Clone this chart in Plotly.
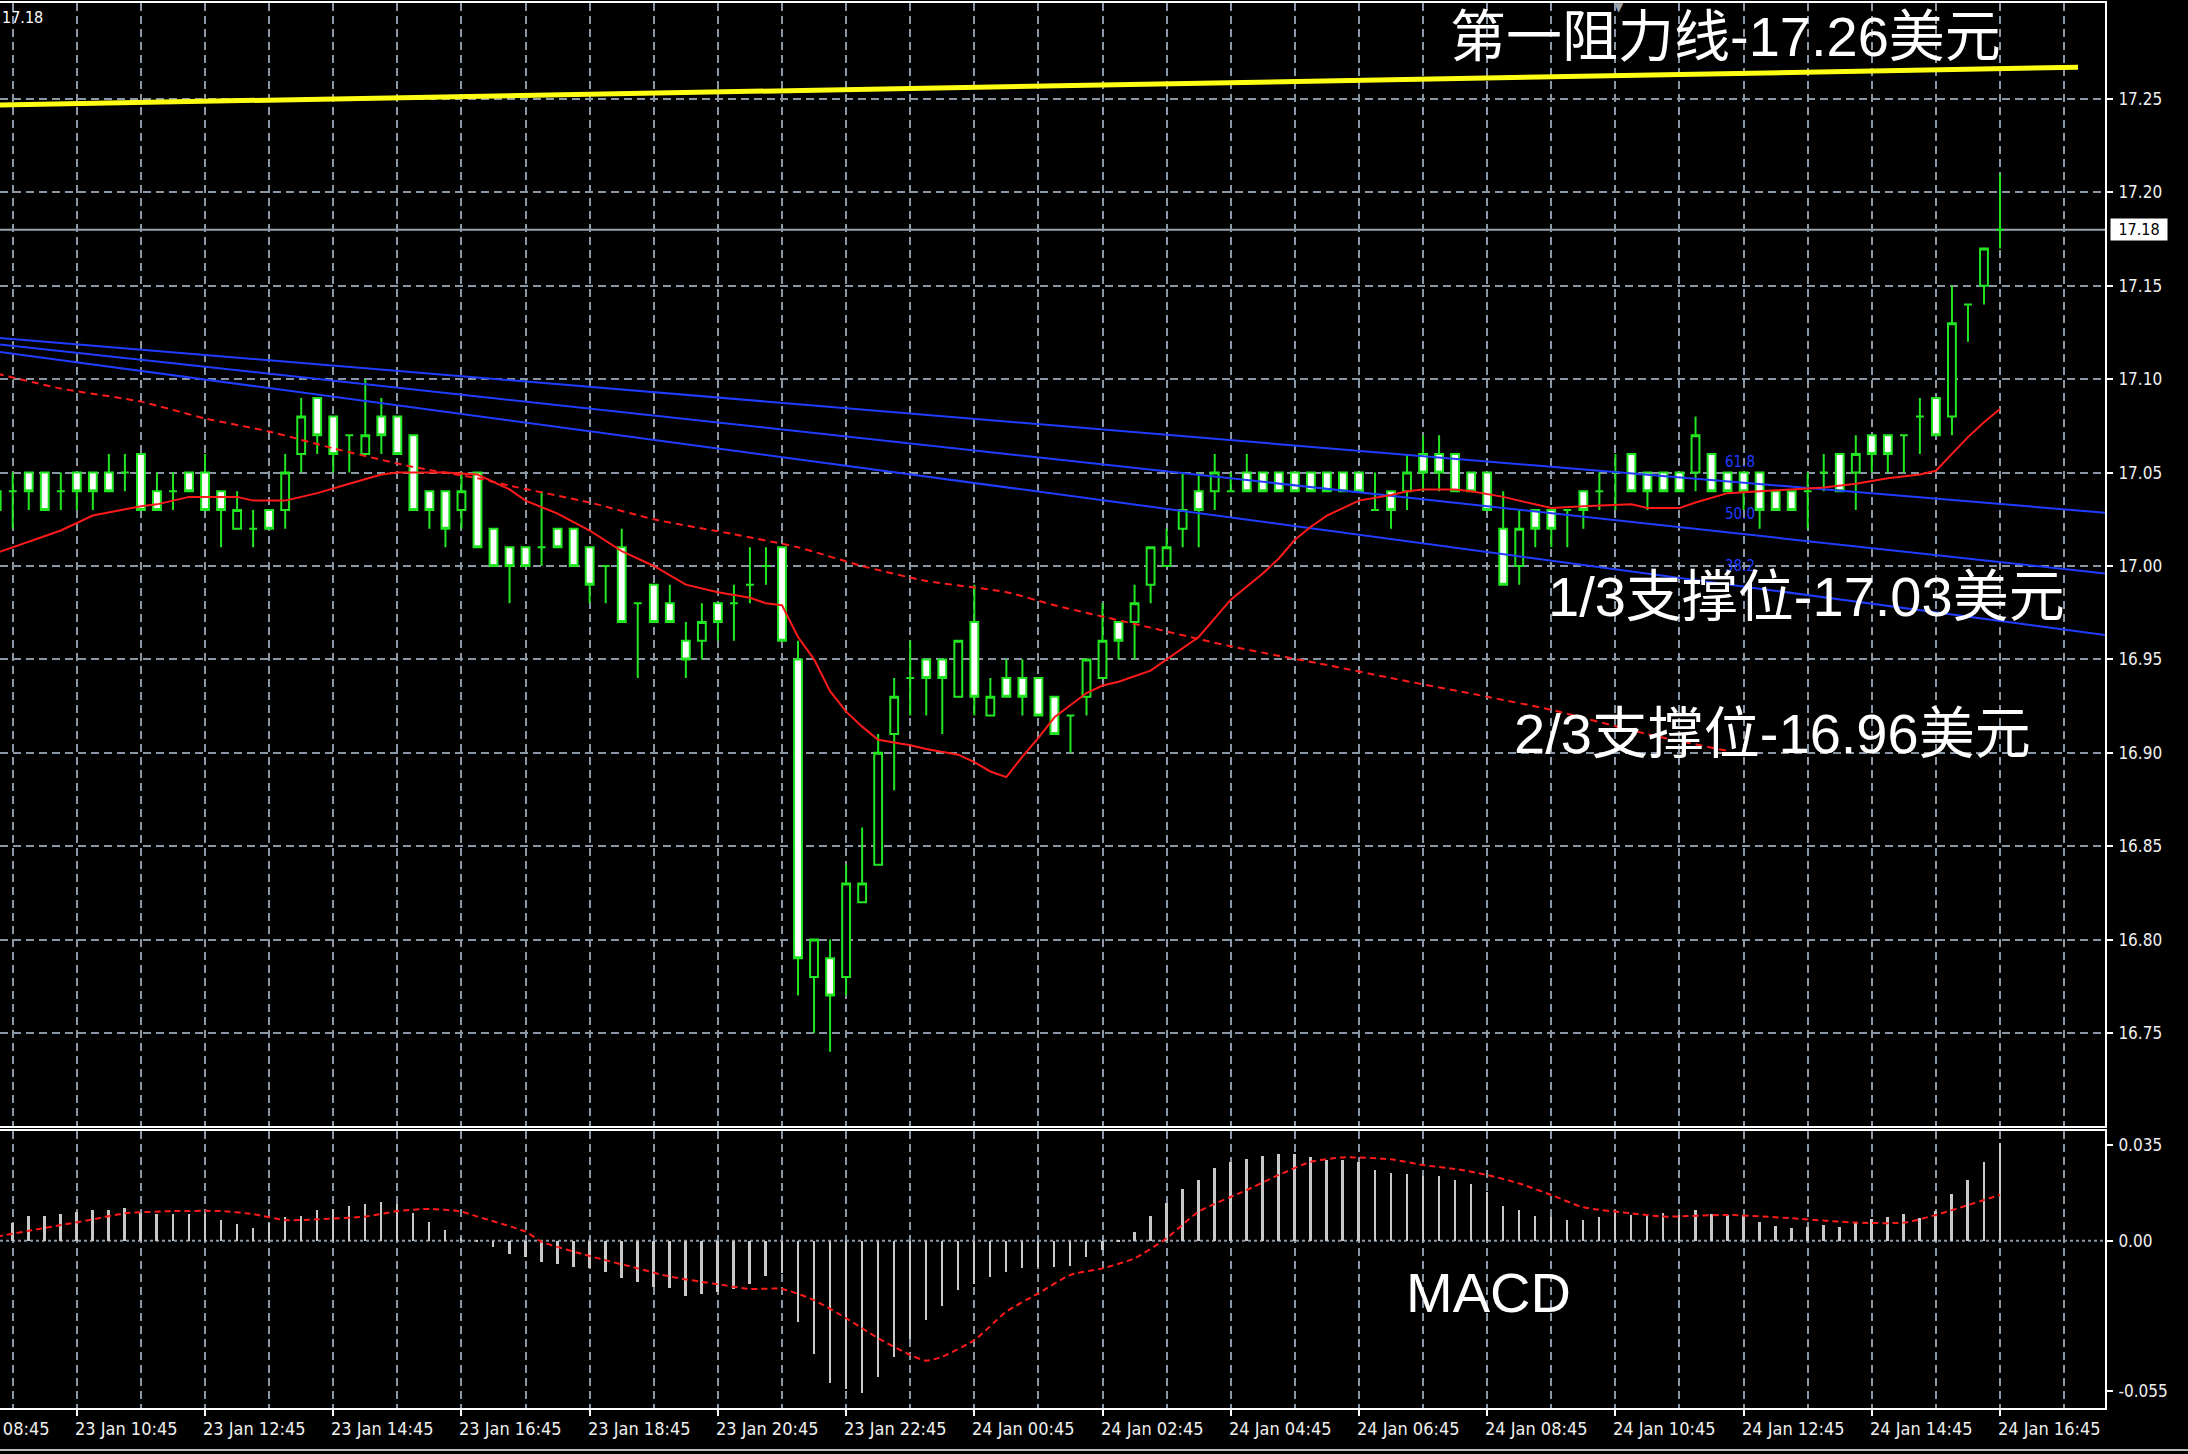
import plotly.graph_objects as go
import pandas as pd

# ---------------- data ----------------
# 15-minute bars, 23 Jan 09:30 -> 24 Jan 16:45 (bar index -1 .. 124)
bar_times = pd.date_range("2018-01-23 09:30", periods=126, freq="15min")

open_p = [
    17.04, 17.04, 17.05, 17.05, 17.04, 17.05, 17.05, 17.05, 17.05, 17.06,
    17.04, 17.04, 17.05, 17.05, 17.04, 17.02, 17.02, 17.03, 17.03, 17.06,
    17.09, 17.08, 17.07, 17.06, 17.08, 17.08, 17.07, 17.04, 17.04, 17.03,
    17.05, 17.02, 17.01, 17.01, 17.01, 17.02, 17.02, 17.01, 17.00, 17.01,
    16.98, 16.99, 16.98, 16.96, 16.96, 16.98, 16.98, 16.99, 17.00, 17.01,
    16.95, 16.78, 16.79, 16.78, 16.82, 16.84, 16.91, 16.94, 16.95, 16.95,
    16.93, 16.97, 16.92, 16.94, 16.94, 16.94, 16.93, 16.92, 16.93, 16.94,
    16.97, 16.97, 16.99, 17.00, 17.02, 17.04, 17.04, 17.04, 17.05, 17.05,
    17.05, 17.05, 17.05, 17.05, 17.05, 17.05, 17.03, 17.04, 17.04, 17.06,
    17.06, 17.06, 17.05, 17.05, 17.02, 17.00, 17.03, 17.03, 17.03, 17.04,
    17.04, 17.05, 17.06, 17.05, 17.05, 17.05, 17.05, 17.06, 17.05, 17.05,
    17.05, 17.04, 17.04, 17.04, 17.05, 17.06, 17.05, 17.07, 17.07, 17.07,
    17.08, 17.09, 17.08, 17.14, 17.15, 17.18,
]
high_p = [
    17.04, 17.05, 17.05, 17.05, 17.05, 17.05, 17.05, 17.06, 17.06, 17.06,
    17.05, 17.05, 17.05, 17.06, 17.04, 17.04, 17.03, 17.03, 17.06, 17.09,
    17.09, 17.08, 17.07, 17.10, 17.09, 17.08, 17.07, 17.04, 17.04, 17.05,
    17.05, 17.02, 17.01, 17.01, 17.04, 17.02, 17.02, 17.01, 17.00, 17.02,
    16.98, 16.99, 16.99, 16.97, 16.98, 16.98, 16.99, 17.01, 17.01, 17.01,
    16.96, 16.80, 16.80, 16.84, 16.86, 16.91, 16.94, 16.96, 16.95, 16.95,
    16.96, 16.99, 16.94, 16.95, 16.95, 16.94, 16.93, 16.92, 16.95, 16.98,
    16.97, 16.99, 17.01, 17.02, 17.05, 17.05, 17.06, 17.05, 17.06, 17.05,
    17.05, 17.05, 17.05, 17.05, 17.05, 17.05, 17.05, 17.04, 17.06, 17.07,
    17.07, 17.06, 17.05, 17.05, 17.04, 17.03, 17.03, 17.03, 17.03, 17.04,
    17.05, 17.06, 17.06, 17.05, 17.05, 17.05, 17.08, 17.06, 17.05, 17.05,
    17.05, 17.04, 17.04, 17.05, 17.06, 17.06, 17.07, 17.07, 17.07, 17.07,
    17.09, 17.09, 17.15, 17.14, 17.17, 17.21,
]
low_p = [
    17.03, 17.02, 17.03, 17.03, 17.03, 17.03, 17.03, 17.04, 17.04, 17.03,
    17.03, 17.03, 17.04, 17.03, 17.01, 17.02, 17.01, 17.02, 17.02, 17.05,
    17.06, 17.05, 17.05, 17.06, 17.06, 17.06, 17.03, 17.02, 17.01, 17.02,
    17.01, 17.00, 16.98, 17.00, 17.00, 17.01, 17.00, 16.98, 16.98, 16.97,
    16.94, 16.97, 16.97, 16.94, 16.95, 16.96, 16.96, 16.98, 16.99, 16.96,
    16.77, 16.75, 16.74, 16.77, 16.82, 16.84, 16.88, 16.92, 16.92, 16.91,
    16.93, 16.92, 16.92, 16.93, 16.92, 16.92, 16.91, 16.90, 16.92, 16.94,
    16.95, 16.95, 16.98, 17.00, 17.01, 17.01, 17.03, 17.04, 17.04, 17.04,
    17.04, 17.04, 17.04, 17.04, 17.04, 17.04, 17.03, 17.02, 17.03, 17.04,
    17.04, 17.04, 17.04, 17.03, 16.99, 16.99, 17.01, 17.01, 17.01, 17.02,
    17.03, 17.03, 17.04, 17.03, 17.04, 17.04, 17.04, 17.04, 17.04, 17.03,
    17.02, 17.03, 17.03, 17.02, 17.04, 17.04, 17.03, 17.05, 17.05, 17.05,
    17.06, 17.07, 17.07, 17.12, 17.14, 17.17,
]
close_p = [
    17.03, 17.04, 17.04, 17.03, 17.04, 17.04, 17.04, 17.04, 17.05, 17.03,
    17.03, 17.04, 17.04, 17.03, 17.03, 17.03, 17.02, 17.02, 17.05, 17.08,
    17.07, 17.06, 17.07, 17.07, 17.07, 17.06, 17.03, 17.03, 17.02, 17.04,
    17.01, 17.00, 17.00, 17.00, 17.01, 17.01, 17.00, 16.99, 17.00, 16.97,
    16.98, 16.97, 16.97, 16.95, 16.97, 16.97, 16.98, 16.99, 17.00, 16.96,
    16.79, 16.80, 16.77, 16.83, 16.83, 16.90, 16.93, 16.94, 16.94, 16.94,
    16.96, 16.93, 16.93, 16.93, 16.93, 16.92, 16.91, 16.92, 16.95, 16.96,
    16.96, 16.98, 17.01, 17.01, 17.03, 17.03, 17.05, 17.04, 17.04, 17.04,
    17.04, 17.04, 17.04, 17.04, 17.04, 17.04, 17.03, 17.03, 17.05, 17.05,
    17.05, 17.04, 17.04, 17.03, 16.99, 17.02, 17.02, 17.02, 17.03, 17.03,
    17.04, 17.05, 17.04, 17.04, 17.04, 17.04, 17.07, 17.04, 17.04, 17.04,
    17.03, 17.03, 17.03, 17.04, 17.05, 17.04, 17.06, 17.06, 17.06, 17.07,
    17.08, 17.07, 17.13, 17.14, 17.17, 17.18,
]

# fast moving average (solid red): bar index -> price
ma_fast_idx = [-1, 1, 3, 5, 8, 9, 11, 14, 15, 17, 19, 21, 23, 24, 27, 29, 30, 31, 32, 34,
               36, 38, 40, 42, 44, 46, 47, 48, 49, 50, 51, 52, 53, 54, 56, 57, 59, 60, 61, 62,
               63, 64, 65, 67, 68, 69, 71, 72, 74, 75, 76, 78, 79, 80, 81, 82, 83, 84, 86, 87,
               88, 90, 91, 93, 94, 96, 98, 101, 102, 104, 105, 107, 109, 111, 113, 115, 117, 119, 120, 121,
               122, 123, 124]
ma_fast_val = [17.007, 17.013, 17.019, 17.027, 17.032, 17.033, 17.037, 17.037, 17.035, 17.035,
               17.039, 17.044, 17.049, 17.050, 17.050, 17.049, 17.045, 17.041, 17.035, 17.028,
               17.019, 17.008, 17.000, 16.990, 16.986, 16.983, 16.980, 16.979, 16.962, 16.950,
               16.933, 16.922, 16.914, 16.907, 16.904, 16.902, 16.899, 16.895, 16.890, 16.887,
               16.898, 16.908, 16.919, 16.932, 16.936, 16.938, 16.944, 16.950, 16.962, 16.972,
               16.982, 16.996, 17.004, 17.014, 17.021, 17.027, 17.031, 17.035, 17.038, 17.040,
               17.041, 17.041, 17.040, 17.037, 17.035, 17.031, 17.032, 17.033, 17.031, 17.031,
               17.034, 17.039, 17.040, 17.041, 17.042, 17.044, 17.047, 17.049, 17.051, 17.060,
               17.069, 17.077, 17.084]

# slow moving average (dashed red)
ma_slow_idx = [-1, 3, 8, 12, 16, 20, 25, 29, 31, 36, 40, 45, 49, 53, 57, 62, 65, 71, 76, 82,
               86, 92, 96, 102, 107]
ma_slow_val = [17.103, 17.095, 17.088, 17.079, 17.072, 17.063, 17.053, 17.047, 17.043, 17.034,
               17.025, 17.017, 17.010, 17.000, 16.992, 16.986, 16.979, 16.967, 16.957, 16.947,
               16.940, 16.930, 16.923, 16.910, 16.901]

# Fibonacci channel lines (anchor times and prices)
fib_times = ["2018-01-23 09:33:06", "2018-01-24 18:23:15"]
fib_618 = [17.1221, 17.0285]
fib_500 = [17.1186, 16.9960]
fib_382 = [17.1146, 16.9630]
fib_label_time = "2018-01-24 12:42"
fib_label_names = ["61.8", "50.0", "38.2"]
fib_label_prices = [17.0555, 17.0280, 17.0000]

# resistance trend line (yellow)
res_times = ["2018-01-23 09:33:06", "2018-01-24 17:58"]
res_prices = [17.2468, 17.2670]

current_price = 17.18

# MACD histogram (bar index -1 .. 124)
macd_hist = [
    0.0050,
    0.0063, 0.0090, 0.0090, 0.0097, 0.0106, 0.0112, 0.0112, 0.0118, 0.0100, 0.0097,
    0.0097, 0.0097, 0.0097, 0.0075, 0.0060, 0.0045, 0.0063, 0.0088, 0.0090, 0.0112,
    0.0114, 0.0127, 0.0134, 0.0141, 0.0134, 0.0100, 0.0069, 0.0039, 0.0009, -0.0002,
    -0.0022, -0.0049, -0.0058, -0.0077, -0.0085, -0.0095, -0.0101, -0.0113, -0.0137, -0.0150,
    -0.0168, -0.0174, -0.0202, -0.0195, -0.0186, -0.0178, -0.0158, -0.0129, -0.0119, -0.0296,
    -0.0414, -0.0521, -0.0543, -0.0557, -0.0499, -0.0426, -0.0360, -0.0290, -0.0238, -0.0180,
    -0.0158, -0.0134, -0.0113, -0.0101, -0.0095, -0.0095, -0.0092, -0.0058, -0.0035, -0.0005,
    0.0033, 0.0090, 0.0139, 0.0187, 0.0221, 0.0264, 0.0287, 0.0300, 0.0309, 0.0315,
    0.0315, 0.0307, 0.0294, 0.0294, 0.0288, 0.0258, 0.0246, 0.0243, 0.0236, 0.0236,
    0.0221, 0.0207, 0.0179, 0.0127, 0.0112, 0.0090, 0.0088, 0.0075, 0.0075, 0.0085,
    0.0100, 0.0094, 0.0094, 0.0100, 0.0094, 0.0112, 0.0097, 0.0094, 0.0094, 0.0069,
    0.0054, 0.0045, 0.0051, 0.0057, 0.0049, 0.0066, 0.0078, 0.0085, 0.0097, 0.0082,
    0.0109, 0.0170, 0.0221, 0.0288, 0.0358,
]

# MACD signal line (dotted red)
signal_idx = [-1, 1, 3, 5, 7, 10, 13, 15, 17, 19, 22, 24, 26, 28, 29, 32, 33, 36, 39, 41,
              44, 46, 48, 50, 52, 54, 56, 57, 58, 60, 62, 64, 66, 68, 70, 72, 74, 77, 79, 81,
              83, 86, 88, 90, 92, 94, 96, 98, 101, 103, 107, 111, 115, 118, 120, 122, 124]
signal_val = [0.0015, 0.0036, 0.0057, 0.0078, 0.0100, 0.0108, 0.0108, 0.0097, 0.0075, 0.0078,
              0.0088, 0.0108, 0.0116, 0.0106, 0.0088, 0.0033, -0.0004, -0.0056, -0.0101, -0.0131,
              -0.0159, -0.0176, -0.0176, -0.0217, -0.0283, -0.0356, -0.0417, -0.0438, -0.0423, -0.0363,
              -0.0259, -0.0192, -0.0125, -0.0101, -0.0064, 0.0009, 0.0106, 0.0185, 0.0240, 0.0288,
              0.0304, 0.0297, 0.0276, 0.0262, 0.0240, 0.0209, 0.0167, 0.0122, 0.0100, 0.0088,
              0.0094, 0.0082, 0.0066, 0.0066, 0.0094, 0.0130, 0.0167]

price_ticks = [16.75, 16.80, 16.85, 16.90, 16.95, 17.00, 17.05, 17.10, 17.15, 17.20, 17.25]
macd_ticks = [0.035, 0.0, -0.055]
macd_tick_text = ["0.035", "0.00", "-0.055"]

time_tick_labels = ["23 Jan 08:45", "23 Jan 10:45", "23 Jan 12:45", "23 Jan 14:45", "23 Jan 16:45",
                    "23 Jan 18:45", "23 Jan 20:45", "23 Jan 22:45", "24 Jan 00:45", "24 Jan 02:45",
                    "24 Jan 04:45", "24 Jan 06:45", "24 Jan 08:45", "24 Jan 10:45", "24 Jan 12:45",
                    "24 Jan 14:45", "24 Jan 16:45"]
time_tick_times = pd.date_range("2018-01-23 08:45", periods=len(time_tick_labels), freq="2h")

# ---------------- style ----------------
W, H = 2188, 1454
GREEN = "#22e622"
GRID = "#8a98a6"
RED = "#ff1a1a"
BLUE = "#1f3cff"
AXFONT = dict(family="DejaVu Sans Condensed, DejaVu Sans", size=17, color="#f0f0f0")
XFONT = dict(family="DejaVu Sans Condensed, DejaVu Sans", size=18, color="#f0f0f0")
BIGFONT = dict(family="Liberation Sans, Noto Sans CJK SC", size=56, color="white")

X_RANGE = [pd.Timestamp("2018-01-23 09:33:06"), pd.Timestamp("2018-01-24 18:23:15")]
X_DOM = [0, 2105 / W]
Y_MAIN_DOM = [1 - 1126 / H, 1 - 3 / H]
Y_MACD_DOM = [1 - 1408 / H, 1 - 1131 / H]


def at(idx_list):
    return [bar_times[i + 1] for i in idx_list]


fig = go.Figure()

fig.add_trace(go.Candlestick(
    x=bar_times, open=open_p, high=high_p, low=low_p, close=close_p,
    increasing=dict(line=dict(color=GREEN, width=2), fillcolor="black"),
    decreasing=dict(line=dict(color=GREEN, width=2), fillcolor="white"),
    whiskerwidth=0, showlegend=False, hoverinfo="skip",
    xaxis="x", yaxis="y",
))

for vals in (fib_618, fib_500, fib_382):
    fig.add_trace(go.Scatter(x=fib_times, y=vals, mode="lines",
                             line=dict(color=BLUE, width=2), showlegend=False,
                             hoverinfo="skip", xaxis="x", yaxis="y"))

fig.add_trace(go.Scatter(x=res_times, y=res_prices, mode="lines",
                         line=dict(color="#ffff14", width=5), showlegend=False,
                         hoverinfo="skip", xaxis="x", yaxis="y"))

fig.add_trace(go.Scatter(x=at(ma_slow_idx), y=ma_slow_val, mode="lines",
                         line=dict(color=RED, width=2, dash="7px,5px", shape="spline", smoothing=0.6),
                         showlegend=False, hoverinfo="skip", xaxis="x", yaxis="y"))
fig.add_trace(go.Scatter(x=at(ma_fast_idx), y=ma_fast_val, mode="lines",
                         line=dict(color=RED, width=2), showlegend=False,
                         hoverinfo="skip", xaxis="x", yaxis="y"))

fig.add_trace(go.Bar(x=bar_times, y=macd_hist, width=110000,
                     marker=dict(color="#c8c8c8", line=dict(width=0)),
                     showlegend=False, hoverinfo="skip", xaxis="x2", yaxis="y2"))
fig.add_trace(go.Scatter(x=at(signal_idx), y=signal_val, mode="lines",
                         line=dict(color=RED, width=2, dash="6px,4px", shape="spline", smoothing=0.6),
                         showlegend=False, hoverinfo="skip", xaxis="x2", yaxis="y2"))

grid_common = dict(showgrid=True, gridcolor=GRID, griddash="8px,5px", gridwidth=1.6)

fig.update_layout(
    width=W, height=H,
    margin=dict(l=0, r=0, t=0, b=0),
    paper_bgcolor="black", plot_bgcolor="black",
    showlegend=False,
    boxgap=0.3, boxgroupgap=0.3,
    bargap=0,
    xaxis=dict(domain=X_DOM, range=X_RANGE, anchor="y", type="date",
               rangeslider=dict(visible=False),
               tick0="2018-01-23 09:45", dtick=3600000, ticks="", showticklabels=False,
               showline=True, mirror=True, linecolor="white", linewidth=2,
               zeroline=False, **grid_common),
    yaxis=dict(domain=Y_MAIN_DOM, range=[16.7002, 17.3014], anchor="x", side="right",
               tickvals=price_ticks, ticktext=[f"{v:.2f}" for v in price_ticks],
               ticks="outside", ticklen=6, tickwidth=2, tickcolor="white",
               ticklabelstandoff=2, tickfont=AXFONT,
               showline=True, linecolor="white", linewidth=2, zeroline=False,
               **grid_common),
    xaxis2=dict(domain=X_DOM, range=X_RANGE, anchor="y2", type="date",
                tick0="2018-01-23 10:45", dtick=7200000,
                ticks="outside", ticklen=6, tickwidth=2, tickcolor="white",
                showticklabels=False,
                minor=dict(tick0="2018-01-23 09:45", dtick=3600000, ticks="",
                           showgrid=True, gridcolor=GRID, griddash="8px,5px", gridwidth=1.6),
                showline=True, mirror=True, linecolor="white", linewidth=2,
                zeroline=False, **grid_common),
    yaxis2=dict(domain=Y_MACD_DOM, range=[-0.06106, 0.04004], anchor="x2", side="right",
                tickvals=macd_ticks, ticktext=macd_tick_text,
                ticks="outside", ticklen=6, tickwidth=2, tickcolor="white",
                ticklabelstandoff=2, tickfont=AXFONT,
                showline=True, linecolor="white", linewidth=2,
                showgrid=False, zeroline=False),
)

shapes = [
    dict(type="line", xref="x2 domain", x0=0, x1=1, yref="y2", y0=0, y1=0,
         line=dict(color=GRID, width=2, dash="3px,3px"), layer="below"),
    dict(type="line", xref="x domain", x0=0, x1=1, yref="y", y0=current_price, y1=current_price,
         line=dict(color="#9aa3ad", width=2), layer="below"),
    dict(type="line", xref="paper", x0=0, x1=1, yref="paper", y0=1 - 1450 / H, y1=1 - 1450 / H,
         line=dict(color="#bcbcbc", width=2)),
]
fig.update_layout(shapes=shapes)

ann = []
# Fibonacci level labels
for name, p in zip(fib_label_names, fib_label_prices):
    ann.append(dict(x=fib_label_time, y=p, xref="x", yref="y", text=name, showarrow=False,
                    font=dict(family="DejaVu Sans Condensed, DejaVu Sans", size=15, color=BLUE)))

# big labels
ann += [
    dict(x=1725 / W, y=1 - 36 / H, xref="paper", yref="paper", text="第一阻力线-17.26美元",
         showarrow=False, font=BIGFONT, xanchor="center", yanchor="middle"),
    dict(x=1806 / W, y=1 - 596 / H, xref="paper", yref="paper", text="1/3支撑位-17.03美元",
         showarrow=False, font=BIGFONT, xanchor="center", yanchor="middle"),
    dict(x=1772 / W, y=1 - 733 / H, xref="paper", yref="paper", text="2/3支撑位-16.96美元",
         showarrow=False, font=BIGFONT, xanchor="center", yanchor="middle"),
    dict(x=1488 / W, y=1 - 1292 / H, xref="paper", yref="paper", text="MACD",
         showarrow=False, font=BIGFONT, xanchor="center", yanchor="middle"),
]

# current price box on the axis
ann.append(dict(x=2110 / W, y=current_price, xref="paper", yref="y", text=f"{current_price:.2f}",
                showarrow=False, xanchor="left", yanchor="middle", bgcolor="white",
                width=54, height=19, borderpad=1,
                font=dict(family="DejaVu Sans Condensed, DejaVu Sans", size=16, color="black")))
# top-left price
ann.append(dict(x=0, y=1 - 18 / H, xref="paper", yref="paper", text=f"{current_price:.2f}",
                showarrow=False, xanchor="left", yanchor="middle",
                font=dict(family="DejaVu Sans Condensed, DejaVu Sans", size=16, color="white")))
# chart-shift marker
ann.append(dict(x=1619 / W, y=1 - 7 / H, xref="paper", yref="paper", text="▼",
                showarrow=False, xanchor="center", yanchor="middle",
                font=dict(family="DejaVu Sans", size=12, color="#9aa3ad")))

# time labels (left aligned at their tick)
span = (X_RANGE[1] - X_RANGE[0]).total_seconds()
for lab, tt in zip(time_tick_labels, time_tick_times):
    if tt < X_RANGE[0]:
        px = X_DOM[1] * (tt - X_RANGE[0]).total_seconds() / span
        ann.append(dict(x=px, y=1 - 1428 / H, xref="paper", yref="paper", text=lab,
                        showarrow=False, xanchor="left", yanchor="middle", xshift=-4,
                        font=XFONT))
    else:
        ann.append(dict(x=tt, y=1 - 1428 / H, xref="x2", yref="paper", text=lab,
                        showarrow=False, xanchor="left", yanchor="middle", xshift=-4,
                        font=XFONT))

fig.update_layout(annotations=ann)

fig.write_html("out.html",
               config={"displayModeBar": False},
               post_script="document.body.style.margin='0px';document.body.style.padding='0px';"
                           "document.body.style.background='black';")
